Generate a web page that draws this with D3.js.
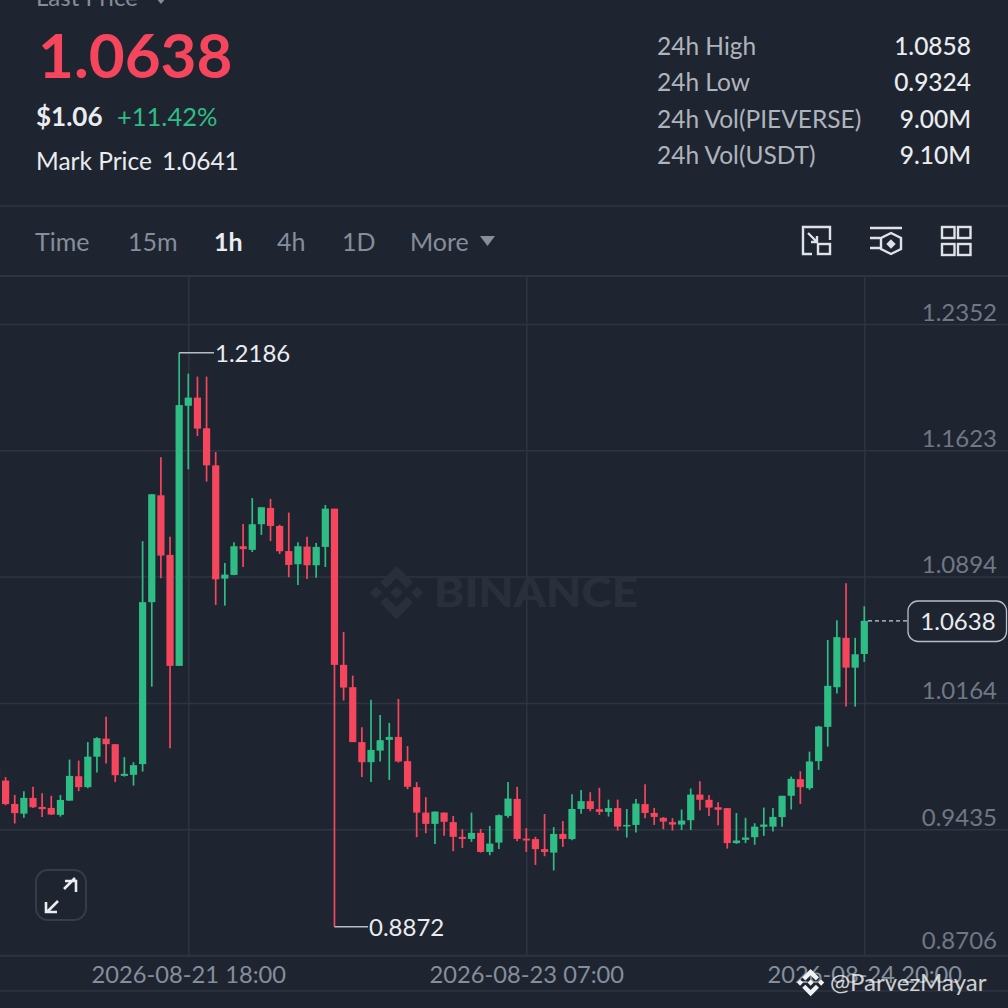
<!DOCTYPE html>
<html><head><meta charset="utf-8">
<script src="https://cdn.jsdelivr.net/npm/d3@7/dist/d3.min.js"></script>
<style>html,body{margin:0;padding:0;background:#1f2530;overflow:hidden}svg{display:block}text{font-family:Lato,"Noto Sans",sans-serif}</style>
</head><body><svg id="c" width="1008" height="1008"></svg>
<script>
const opens=[.9789,.9716,.9581,.9525,.9616,.9564,.9558,.9518,.9600,.9741,.9678,.9854,.9958,.9926,.9743,.9749,.9811,1.0746,1.1363,1.1019,1.0378,1.1880,1.1927,1.1750,1.1536,1.0882,1.0903,1.1069,1.1048,1.1196,1.1290,1.1186,1.1041,1.0965,1.1067,1.0959,1.1065,1.1286,1.0384,1.0255,.9938,.9822,.9889,.9951,.9968,.9828,.9678,.9531,.9466,.9531,.9476,.9391,.9379,.9414,.9304,.9358,.9512,.9610,.9381,.9378,.9320,.9300,.9408,.9378,.9552,.9597,.9551,.9535,.9557,.9451,.9460,.9580,.9529,.9501,.9476,.9462,.9487,.9635,.9605,.9562,.9557,.9355,.9374,.9389,.9449,.9450,.9505,.9628,.9724,.9672,.9828,1.0026,1.0255,1.0540,1.0368,1.0447];
const highs=[.9800,.9736,.9633,.9655,.9680,.9643,.9628,.9633,.9837,.9831,.9938,.9966,1.0085,.9926,.9851,.9822,1.1098,1.1371,1.1583,1.1124,1.2186,1.2065,1.2048,1.2048,1.1613,1.0972,1.1092,1.1197,1.1347,1.1294,1.1342,1.1193,1.1263,1.1092,1.1124,1.1088,1.1307,1.1286,1.0574,1.0322,1.0024,1.0182,1.0095,1.0049,1.0187,.9915,.9707,.9620,.9537,.9531,.9512,.9435,.9531,.9437,.9454,.9520,.9707,.9680,.9441,.9391,.9523,.9447,.9482,.9637,.9661,.9649,.9674,.9606,.9606,.9552,.9609,.9695,.9558,.9505,.9499,.9549,.9670,.9712,.9633,.9591,.9557,.9528,.9501,.9470,.9560,.9558,.9628,.9739,.9770,.9883,1.0032,1.0528,1.0642,1.0855,1.0540,1.0722];
const lows=[.9720,.9574,.9468,.9502,.9557,.9505,.9518,.9508,.9600,.9655,.9672,.9762,.9814,.9707,.9739,.9687,.9768,1.0258,1.0884,.9903,1.0378,1.1513,1.1705,1.1442,1.0730,1.0726,1.0902,1.0949,1.1036,1.1134,1.1099,1.1024,1.0890,1.0845,1.0880,1.0887,1.0949,.8872,1.0178,.9938,.9736,.9707,.9826,.9720,.9820,.9666,.9389,.9412,.9350,.9398,.9308,.9327,.9362,.9300,.9285,.9321,.9502,.9366,.9304,.9229,.9279,.9197,.9333,.9372,.9525,.9539,.9518,.9508,.9427,.9387,.9416,.9499,.9460,.9435,.9427,.9430,.9431,.9545,.9512,.9458,.9323,.9350,.9355,.9345,.9397,.9422,.9450,.9549,.9581,.9662,.9778,.9912,1.0218,1.0143,1.0143,1.0401];
const closes=[.9737,.9580,.9528,.9616,.9562,.9551,.9520,.9604,.9743,.9678,.9854,.9961,.9926,.9747,.9755,.9805,1.0746,1.1369,1.1015,1.0378,1.1884,1.1927,1.1748,1.1536,1.0878,1.0905,1.1069,1.1052,1.1196,1.1294,1.1186,1.1040,1.0961,1.1069,1.0959,1.1065,1.1286,1.0384,1.0253,.9938,.9822,.9893,.9949,.9968,.9826,.9680,.9531,.9466,.9537,.9478,.9391,.9379,.9414,.9304,.9352,.9516,.9612,.9379,.9370,.9320,.9304,.9408,.9379,.9552,.9597,.9552,.9535,.9557,.9450,.9460,.9583,.9529,.9506,.9479,.9462,.9485,.9635,.9605,.9560,.9547,.9355,.9370,.9387,.9450,.9462,.9506,.9628,.9726,.9678,.9826,1.0028,1.0263,1.0544,1.0368,1.0445,1.0638];
const priceTicks=[1.2352,1.1623,1.0894,1.0164,.9435,.8706];
const timeTicks=["2026-08-21T18:00Z","2026-08-23T07:00Z","2026-08-24T20:00Z"];
const firstCandle="2026-08-20T21:00Z";
const statLabels=["24h High","24h Low","24h Vol(PIEVERSE)","24h Vol(USDT)"];
const statValues=["1.0858","0.9324","9.00M","9.10M"];
const intervals=["Time","15m","1h","4h","1D","More"];
const lastPrice=1.0638, highMark=1.2186, lowMark=.8872;

const BG="#1f2530",GRID="#2e3540",RED="#f6465d",GREEN="#2ebd85",MUTE="#848e9c";
const svg=d3.select("#c");
const x=d3.scaleUtc().domain([new Date(timeTicks[0]),new Date(timeTicks[2])]).range([188.3,864.3]);
const y=d3.scaleLinear().domain([.8706,1.2352]).range([955.5,324]);
const T=(sel,xx,yy,s,size,fill,opt={})=>sel.append("text").attr("x",xx).attr("y",yy).attr("font-size",size).attr("fill",fill)
  .attr("font-weight",opt.w||400).attr("text-anchor",opt.a||"start").text(s);

// header
T(svg,36,6,"Last Price",24,MUTE);
svg.append("path").attr("d","M156 -2h10l-5 6z").attr("fill",MUTE);
T(svg,38,78,"1.0638",62,RED,{w:700});
T(svg,36,126,"$1.06",26,"#eaecef",{w:700});
T(svg,117,126,"+11.42%",25.5,GREEN);
T(svg,36,170,"Mark Price",24.5,"#eaecef");
T(svg,162,170,"1.0641",24.5,"#eaecef");
const statY=[55,91,128,164];
statLabels.forEach((s,i)=>{T(svg,657,statY[i],s,24.5,"#aeb4bc");T(svg,971,statY[i],statValues[i],24.5,"#eaecef",{a:"end",w:500});});
[206,276,955.5,991].forEach(v=>svg.append("line").attr("x1",0).attr("x2",1008).attr("y1",v).attr("y2",v).attr("stroke",GRID).attr("stroke-width",v==276?2:1.5));

// toolbar
const intervalX=[35,128,214,277,342,410];
intervals.forEach((s,i)=>T(svg,intervalX[i],251,s,25,s=="1h"?"#eaecef":MUTE,{w:s=="1h"?700:400}));
svg.append("path").attr("d","M480 236h15l-7.5 10z").attr("fill",MUTE);
const ic=svg.append("g").attr("fill","none").attr("stroke","#dfe2e6").attr("stroke-width",2.4);
ic.append("path").attr("d","M812 254h-9v-27h27v13");
ic.append("rect").attr("x",818).attr("y",244).attr("width",12).attr("height",10);
ic.append("path").attr("d","M808 233l9 9M817 236v6h-6");
ic.append("path").attr("d","M870 228h32M870 238h10M870 248h10");
ic.append("path").attr("d","M891 233l10 5v11l-10 5l-10 -5v-11z");
ic.append("path").attr("d","M891 241l3 3l-3 3l-3 -3z").attr("fill","#dfe2e6");
[[942,227],[958,227],[942,244],[958,244]].forEach(p=>ic.append("rect").attr("x",p[0]).attr("y",p[1]).attr("width",12.5).attr("height",11));

// grid + axes
const vg=svg.append("g").attr("transform","translate(0,955.5)").call(d3.axisBottom(x).tickValues(timeTicks.map(d=>new Date(d))).tickSize(-679.5).tickFormat(d3.utcFormat("%Y-%m-%d %H:%M")));
vg.select(".domain").remove();
vg.selectAll("line").attr("stroke",GRID).attr("stroke-width",1.5);
vg.selectAll("text").attr("y",27.5).attr("dy",0).attr("font-size",23.7).attr("fill",MUTE).attr("font-family",null);
const hg=svg.append("g").attr("transform","translate(1008,0)").call(d3.axisLeft(y).tickValues(priceTicks).tickSize(1008).tickFormat(d3.format(".4f")));
hg.select(".domain").remove();
hg.selectAll("line").attr("stroke",GRID).attr("stroke-width",1.5);
hg.selectAll("text").attr("x",-11).attr("dy",d=>d==.8706?-7:-4).attr("font-size",24).attr("fill","#6f7885").attr("font-family",null);

// watermark
const LOGO="M38.73 53.2l24.59-24.58 24.6 24.6 14.3-14.31L63.32 0l-38.9 38.9 14.31 14.3zM0 63.31l14.3-14.31 14.31 14.31L14.3 77.61 0 63.31zm38.73 10.1l24.59 24.59 24.6-24.6 14.31 14.29-.01.01-38.9 38.9-38.9-38.89-.02-.02 14.33-14.28zM98.02 63.31l14.3-14.31 14.31 14.3-14.31 14.32-14.3-14.31zM77.83 63.3L63.32 48.78 52.59 59.51l-1.24 1.23-2.54 2.54 14.51 14.52 14.51-14.5z";
svg.append("path").attr("d",LOGO).attr("transform","translate(370,566) scale(.42)").attr("fill","#2a303b");
T(svg,434,607,"BINANCE",41,"#2a303b",{w:900}).attr("textLength",204).attr("lengthAdjust","spacingAndGlyphs");

// candles
const t0=+new Date(firstCandle);
const cd=opens.map((o,i)=>({t:new Date(t0+i*36e5),o,h:highs[i],l:lows[i],c:closes[i]}));
const cg=svg.append("g");
const col=d=>d.c>=d.o?GREEN:RED;
cg.selectAll(".w").data(cd).join("line").attr("x1",d=>x(d.t)).attr("x2",d=>x(d.t)).attr("y1",d=>y(d.h)).attr("y2",d=>y(d.l)).attr("stroke",col).attr("stroke-width",1.7);
cg.selectAll(".b").data(cd).join("rect").attr("x",d=>x(d.t)-3.6).attr("width",7.2).attr("y",d=>y(Math.max(d.o,d.c))).attr("height",d=>Math.max(1.5,Math.abs(y(d.o)-y(d.c)))).attr("fill",col);

// high / low annotations
const hi=cd.find(d=>d.h==highMark), lo=cd.find(d=>d.l==lowMark);
svg.append("line").attr("x1",x(hi.t)).attr("x2",214).attr("y1",y(highMark)).attr("y2",y(highMark)).attr("stroke","#b7bdc6").attr("stroke-width",1.4);
T(svg,215,362,"1.2186",24,"#eaecef");
svg.append("line").attr("x1",x(lo.t)).attr("x2",368).attr("y1",y(lowMark)).attr("y2",y(lowMark)).attr("stroke","#b7bdc6").attr("stroke-width",1.4);
T(svg,369,936,"0.8872",24,"#eaecef");

// last price tag
svg.append("line").attr("x1",868).attr("x2",908).attr("y1",y(lastPrice)).attr("y2",y(lastPrice)).attr("stroke","#c9ced6").attr("stroke-width",1.2).attr("stroke-dasharray","4 3");
svg.append("rect").attr("x",908).attr("y",601).attr("width",98.5).attr("height",40.5).attr("rx",10).attr("fill",BG).attr("stroke","#b7bdc6").attr("stroke-width",1.3);
T(svg,958,630,"1.0638",24,"#eaecef",{a:"middle"});

// expand button
svg.append("rect").attr("x",36).attr("y",870).attr("width",50).attr("height",50).attr("rx",12).attr("fill","none").attr("stroke","#363c48").attr("stroke-width",2);
svg.append("path").attr("d","M64 889l11 -11M65 881h11v11M58 901l-11 11M46 902v10h11").attr("fill","none").attr("stroke","#eaecef").attr("stroke-width",2.6);

// user watermark
svg.append("path").attr("d",LOGO).attr("transform","translate(797,969) scale(.215)").attr("fill","#f1f2f4");
T(svg,830,991,"@ParvezMayar",24,"#ffffff").attr("opacity",.78);
</script></body></html>
